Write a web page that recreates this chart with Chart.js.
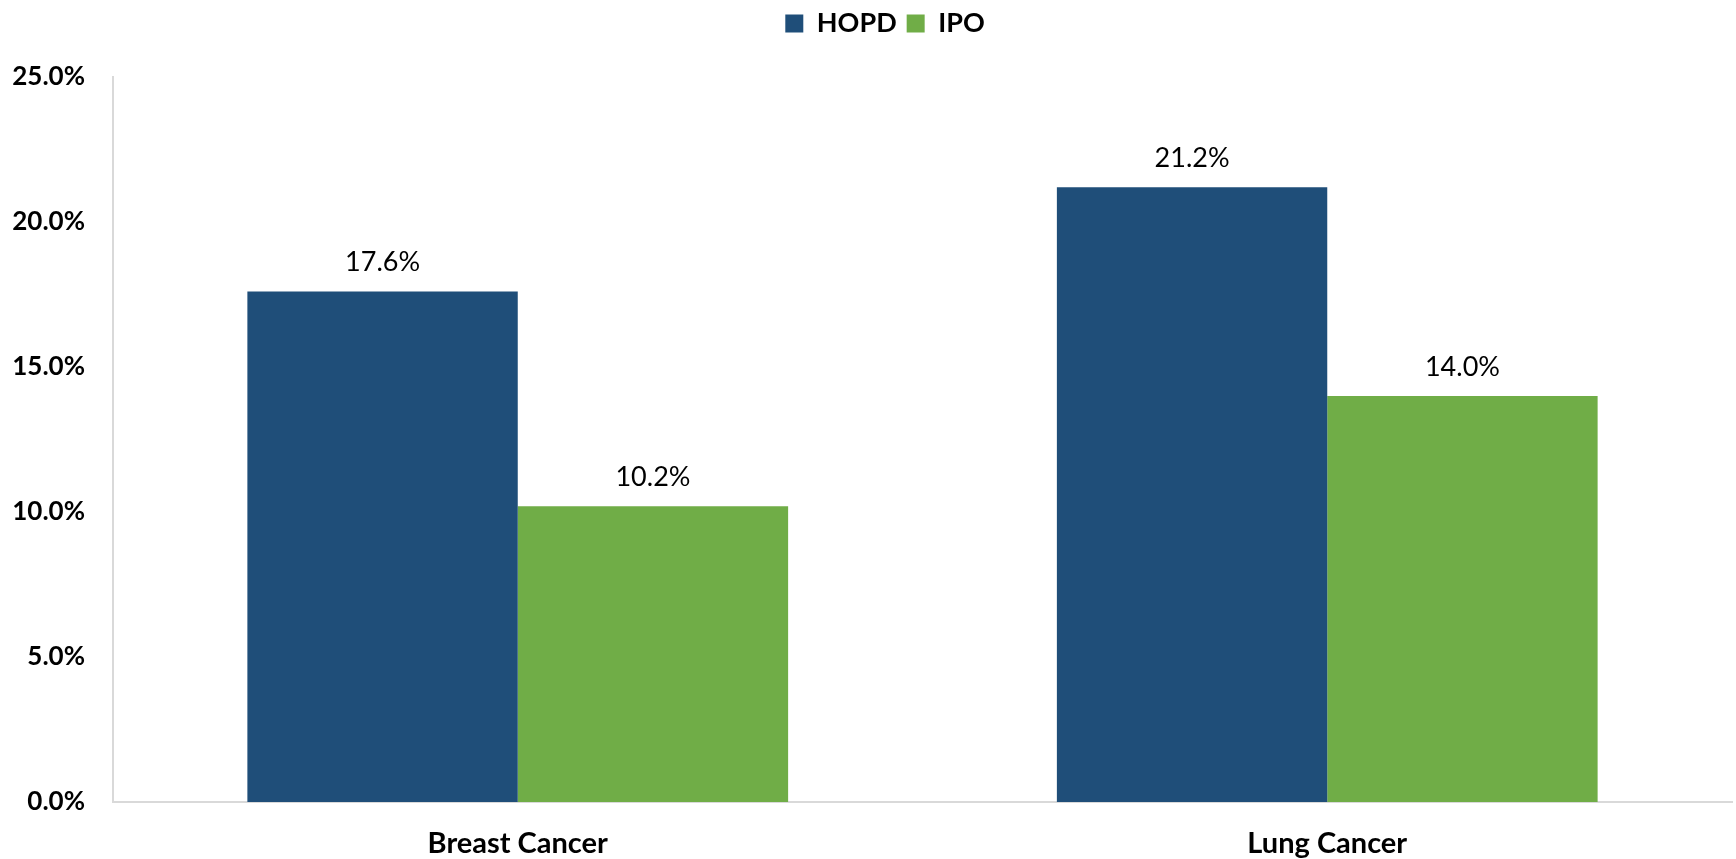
<!DOCTYPE html>
<html>
<head>
<meta charset="utf-8">
<script src="https://cdn.jsdelivr.net/npm/chart.js@4/dist/chart.umd.min.js"></script>
<style>
  html, body { margin: 0; padding: 0; background: #ffffff; }
  #wrap { width: 1736px; height: 859px; position: relative; }
</style>
</head>
<body>
<div id="wrap"><canvas id="c"></canvas></div>
<script>
const categories = ["Breast Cancer", "Lung Cancer"];
const seriesNames = ["HOPD", "IPO"];
const hopdValues = [17.6, 21.2];
const ipoValues = [10.2, 14.0];
const yTickValues = [0, 5, 10, 15, 20, 25];

const FONT = "Lato, 'Open Sans', 'DejaVu Sans', sans-serif";

const valueLabels = {
  id: 'valueLabels',
  afterDatasetsDraw(chart) {
    const ctx = chart.ctx;
    ctx.save();
    ctx.font = "400 27px " + FONT;
    ctx.fillStyle = '#000000';
    ctx.textAlign = 'center';
    ctx.textBaseline = 'middle';
    chart.data.datasets.forEach((ds, di) => {
      const meta = chart.getDatasetMeta(di);
      meta.data.forEach((el, i) => {
        ctx.fillText(ds.data[i].toFixed(1) + '%', el.x, el.y - 29);
      });
    });
    ctx.restore();
  }
};

const legendSpace = {
  id: 'legendSpace',
  beforeLayout(chart) {
    const lg = chart.legend;
    if (lg && !lg._spacePatched) {
      const f = lg.fit.bind(lg);
      lg.fit = function () { f(); this.height += 30; };
      const d = lg.draw.bind(lg);
      lg.draw = function (a) {
        const ctx = this.ctx;
        ctx.save();
        ctx.translate(19, 0);
        d(a);
        ctx.restore();
      };
      lg._spacePatched = true;
    }
  }
};

new Chart(document.getElementById('c'), {
  type: 'bar',
  data: {
    labels: categories,
    datasets: [
      { label: seriesNames[0], data: hopdValues, backgroundColor: '#1F4E79', borderWidth: 0 },
      { label: seriesNames[1], data: ipoValues, backgroundColor: '#70AD47', borderWidth: 0 }
    ]
  },
  options: {
    responsive: true,
    maintainAspectRatio: false,
    animation: false,
    layout: { padding: { left: 0, right: 4, top: 0, bottom: 0 } },
    datasets: { bar: { categoryPercentage: 0.668, barPercentage: 1.0 } },
    plugins: {
      tooltip: { enabled: false },
      legend: {
        position: 'top',
        align: 'center',
        labels: {
          boxWidth: 18,
          boxHeight: 18,
          padding: 10,
          color: '#000000',
          font: { family: FONT, size: 27, weight: 'bold' }
        }
      }
    },
    scales: {
      x: {
        afterFit(scale) { scale.height = 57; },
        grid: { display: false, drawTicks: false },
        border: { display: true, color: '#D9D9D9', width: 2 },
        ticks: {
          color: '#000000',
          padding: 24,
          font: { family: FONT, size: 29, weight: 'bold' }
        }
      },
      y: {
        min: 0,
        max: 25,
        afterBuildTicks(scale) { scale.ticks = yTickValues.map(v => ({ value: v })); },
        afterFit(scale) { scale.width = 113; },
        grid: { display: false, drawTicks: false },
        border: { display: true, color: '#D9D9D9', width: 2 },
        ticks: {
          color: '#000000',
          padding: 28,
          font: { family: FONT, size: 26, weight: 'bold' },
          callback: (v) => Number(v).toFixed(1) + '%'
        }
      }
    }
  },
  plugins: [valueLabels, legendSpace]
});
</script>
</body>
</html>
